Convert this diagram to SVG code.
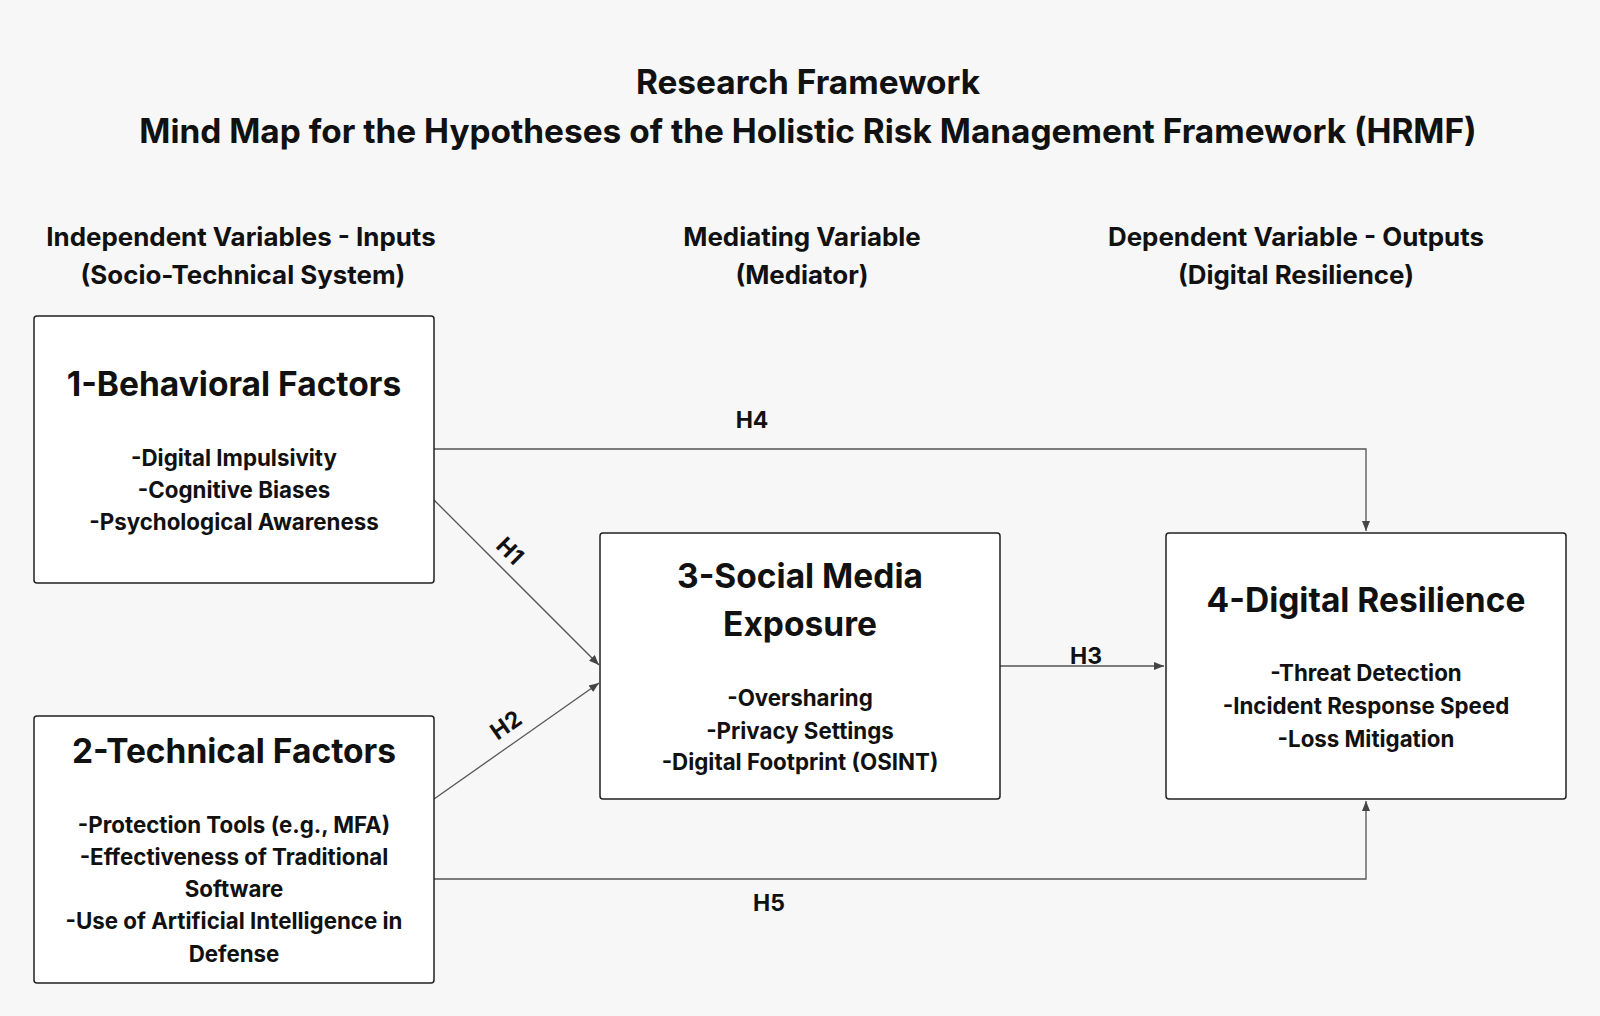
<svg xmlns="http://www.w3.org/2000/svg" width="1600" height="1016" viewBox="0 0 1600 1016">
<style>
text{font-family:Inter,"Liberation Sans",sans-serif;font-weight:bold;fill:#111;text-anchor:middle}
.t{font-size:33.4px}.h{font-size:25.9px}.bt{font-size:33.5px}.it{font-size:22.3px}.lb{font-size:23px}
.box{fill:#fff;stroke:#222;stroke-width:1.5}
.c{fill:none;stroke:#555;stroke-width:1.3;marker-end:url(#a)}
</style>
<defs><marker id="a" viewBox="0 0 10 10" refX="10" refY="5" markerWidth="10" markerHeight="10" markerUnits="userSpaceOnUse" orient="auto"><path d="M0,1L10,5L0,9z" fill="#444"/></marker></defs>
<rect width="1600" height="1016" fill="#f7f7f7"/>
<text class="t" x="808" y="94">Research Framework</text>
<text class="t" x="808" y="143">Mind Map for the Hypotheses of the Holistic Risk Management Framework (HRMF)</text>
<text class="h" x="241" y="246">Independent Variables - Inputs</text>
<text class="h" x="243" y="284">(Socio-Technical System)</text>
<text class="h" x="802" y="246">Mediating Variable</text>
<text class="h" x="802" y="284">(Mediator)</text>
<text class="h" x="1296" y="246">Dependent Variable - Outputs</text>
<text class="h" x="1296" y="284">(Digital Resilience)</text>
<g id="connectors">
<path class="c" d="M434,449H1366V531"/>
<path class="c" d="M434,500L599,665"/>
<path class="c" d="M434,799L599,683"/>
<path class="c" d="M1000,666H1164"/>
<path class="c" d="M434,879H1366V801"/>
<text class="lb" x="752" y="428">H4</text>
<text class="lb" transform="translate(510,551) rotate(45)" y="8">H1</text>
<text class="lb" transform="translate(506,725) rotate(-35)" y="8">H2</text>
<text class="lb" x="1086" y="664">H3</text>
<text class="lb" x="769" y="911">H5</text>
</g>
<g id="n1"><rect class="box" x="34" y="316" width="400" height="267" rx="3"/>
<text class="bt" x="234" y="396">1-Behavioral Factors</text>
<text class="it" x="234" y="466">-Digital Impulsivity</text>
<text class="it" x="234" y="498">-Cognitive Biases</text>
<text class="it" x="234" y="530">-Psychological Awareness</text></g>
<g id="n2"><rect class="box" x="34" y="716" width="400" height="267" rx="3"/>
<text class="bt" x="234" y="763">2-Technical Factors</text>
<text class="it" x="234" y="833">-Protection Tools (e.g., MFA)</text>
<text class="it" x="234" y="865">-Effectiveness of Traditional</text>
<text class="it" x="234" y="897">Software</text>
<text class="it" x="234" y="929">-Use of Artificial Intelligence in</text>
<text class="it" x="234" y="962">Defense</text></g>
<g id="n3"><rect class="box" x="600" y="533" width="400" height="266" rx="3"/>
<text class="bt" x="800" y="588">3-Social Media</text>
<text class="bt" x="800" y="636">Exposure</text>
<text class="it" x="800" y="706">-Oversharing</text>
<text class="it" x="800" y="739">-Privacy Settings</text>
<text class="it" x="800" y="770">-Digital Footprint (OSINT)</text></g>
<g id="n4"><rect class="box" x="1166" y="533" width="400" height="266" rx="3"/>
<text class="bt" x="1366" y="612">4-Digital Resilience</text>
<text class="it" x="1366" y="681">-Threat Detection</text>
<text class="it" x="1366" y="714">-Incident Response Speed</text>
<text class="it" x="1366" y="747">-Loss Mitigation</text></g>
</svg>
